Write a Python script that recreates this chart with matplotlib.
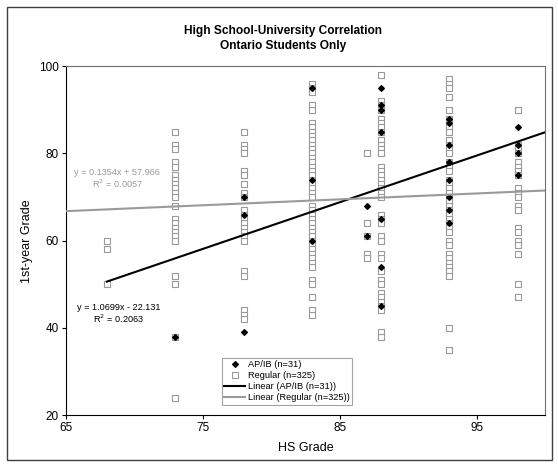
import numpy as np
import matplotlib
matplotlib.use('Agg')
import matplotlib.pyplot as plt
from matplotlib.lines import Line2D

plt.rcParams['font.family'] = ['Liberation Sans', 'DejaVu Sans']

# regular students, first-year grade by HS grade column
reg = {
    68: [60, 58, 50],
    73: [85, 82, 81, 78, 77, 75, 74, 73, 72, 71, 70, 68, 65, 64, 63, 62, 61, 60, 52, 50, 38, 24],
    78: [85, 82, 81, 80, 76, 75, 73, 71, 70, 67, 66, 65, 64, 63, 62, 61, 60, 53, 52, 44, 43, 42],
    83: [96, 95, 94, 91, 90, 87, 86, 85, 84, 83, 82, 81, 80, 79, 78, 77, 76, 75, 74, 73, 72, 71, 70,
         68, 67, 66, 65, 64, 63, 62, 61, 60, 59, 58, 57, 56, 55, 54, 51, 50, 47, 44, 43],
    87: [80, 64, 61, 57, 56],
    88: [98, 92, 91, 90, 88, 87, 86, 85, 83, 82, 81, 80, 77, 76, 75, 74, 73, 72, 71, 70, 66, 65, 64,
         61, 60, 57, 56, 53, 51, 50, 48, 47, 46, 45, 44, 39, 38],
    93: [97, 96, 95, 93, 90, 88, 87, 86, 85, 83, 82, 81, 80, 78, 77, 76, 74, 73, 72, 71, 70, 69, 68,
         67, 66, 65, 64, 63, 62, 60, 59, 57, 56, 55, 54, 53, 52, 40, 35],
    98: [90, 82, 81, 80, 78, 77, 76, 75, 72, 71, 70, 68, 67, 63, 62, 60, 59, 57, 50, 47],
}
# AP/IB students
ap = {
    73: [38],
    78: [70, 66, 39],
    83: [95, 74, 60],
    87: [68, 61],
    88: [95, 91, 90, 85, 65, 54, 45],
    93: [88, 87, 82, 78, 74, 70, 67, 64],
    98: [86, 82, 80, 75],
}

# trendline coefficients as printed on the chart
ap_fit = (1.0699, -22.131, 0.2063)
reg_fit = (0.1354, 57.966, 0.0057)
ap_span = [68, 100]
reg_span = [65, 100]

reg_x = np.concatenate([[k] * len(v) for k, v in reg.items()])
reg_y = np.concatenate([v for v in reg.values()])
ap_x = np.concatenate([[k] * len(v) for k, v in ap.items()])
ap_y = np.concatenate([v for v in ap.values()])

sq_col = '#999999'
fig = plt.figure(figsize=(5.58, 4.66), dpi=100)
fig.patch.set_facecolor('white')
ax = fig.add_axes([0.118, 0.109, 0.859, 0.749])

ax.plot(reg_x, reg_y, ls='none', marker='s', ms=4.3, mfc='white', mec=sq_col, mew=0.8, zorder=2)
ax.plot(ap_x, ap_y, ls='none', marker='D', ms=2.9, mfc='black', mec='black', zorder=3)

xs = np.array(ap_span)
ax.plot(xs, ap_fit[0] * xs + ap_fit[1], color='black', lw=1.5, zorder=4)
xs = np.array(reg_span)
ax.plot(xs, reg_fit[0] * xs + reg_fit[1], color='#9a9a9a', lw=1.5, zorder=4)

ax.set_xlim(65, 100)
ax.set_ylim(20, 100)
ax.set_xticks([65, 75, 85, 95])
ax.set_yticks([20, 40, 60, 80, 100])
ax.tick_params(labelsize=8.5, length=3, width=0.8, direction='out', pad=2)
for s in ['top', 'right']:
    ax.spines[s].set_color('#707070')
for s in ['left', 'bottom']:
    ax.spines[s].set_color('black')

ax.set_xlabel('HS Grade', fontsize=9, labelpad=6)
ax.set_ylabel('1st-year Grade', fontsize=9, labelpad=4)

fig.text(0.507, 0.917, 'High School-University Correlation\nOntario Students Only',
         ha='center', va='center', fontsize=8.6, fontweight='bold', linespacing=1.3)

ax.text(0.21, 0.616, 'y = %.4fx + %.3f\nR$^2$ = %.4f' % reg_fit, transform=fig.transFigure,
        color='#9a9a9a', fontsize=6.6, ha='center', va='center', linespacing=1.1)
ax.text(0.212, 0.326, 'y = %.4fx - %.3f\nR$^2$ = %.4f' % (ap_fit[0], -ap_fit[1], ap_fit[2]),
        transform=fig.transFigure, color='black', fontsize=6.6, ha='center', va='center',
        linespacing=1.1)

handles = [
    Line2D([], [], ls='none', marker='D', ms=2.9, mfc='black', mec='black'),
    Line2D([], [], ls='none', marker='s', ms=4.3, mfc='white', mec=sq_col, mew=0.8),
    Line2D([], [], color='black', lw=1.5),
    Line2D([], [], color='#9a9a9a', lw=1.5),
]
labels = ['AP/IB (n=31)', 'Regular (n=325)', 'Linear (AP/IB (n=31))', 'Linear (Regular (n=325))']
leg = ax.legend(handles, labels, loc='lower left', bbox_to_anchor=(0.325, 0.03), fontsize=6.7,
                frameon=True, fancybox=False, borderpad=0.3, labelspacing=0.2,
                handlelength=2.2, handletextpad=0.3, borderaxespad=0)
leg.get_frame().set_edgecolor('#8c8c8c')
leg.get_frame().set_linewidth(0.8)

# outer chart border
fig.add_artist(plt.Rectangle((0.012, 0.013), 0.978, 0.972, transform=fig.transFigure,
                             fill=False, edgecolor='#404040', lw=1.0))

plt.savefig('out.png', dpi=100)
